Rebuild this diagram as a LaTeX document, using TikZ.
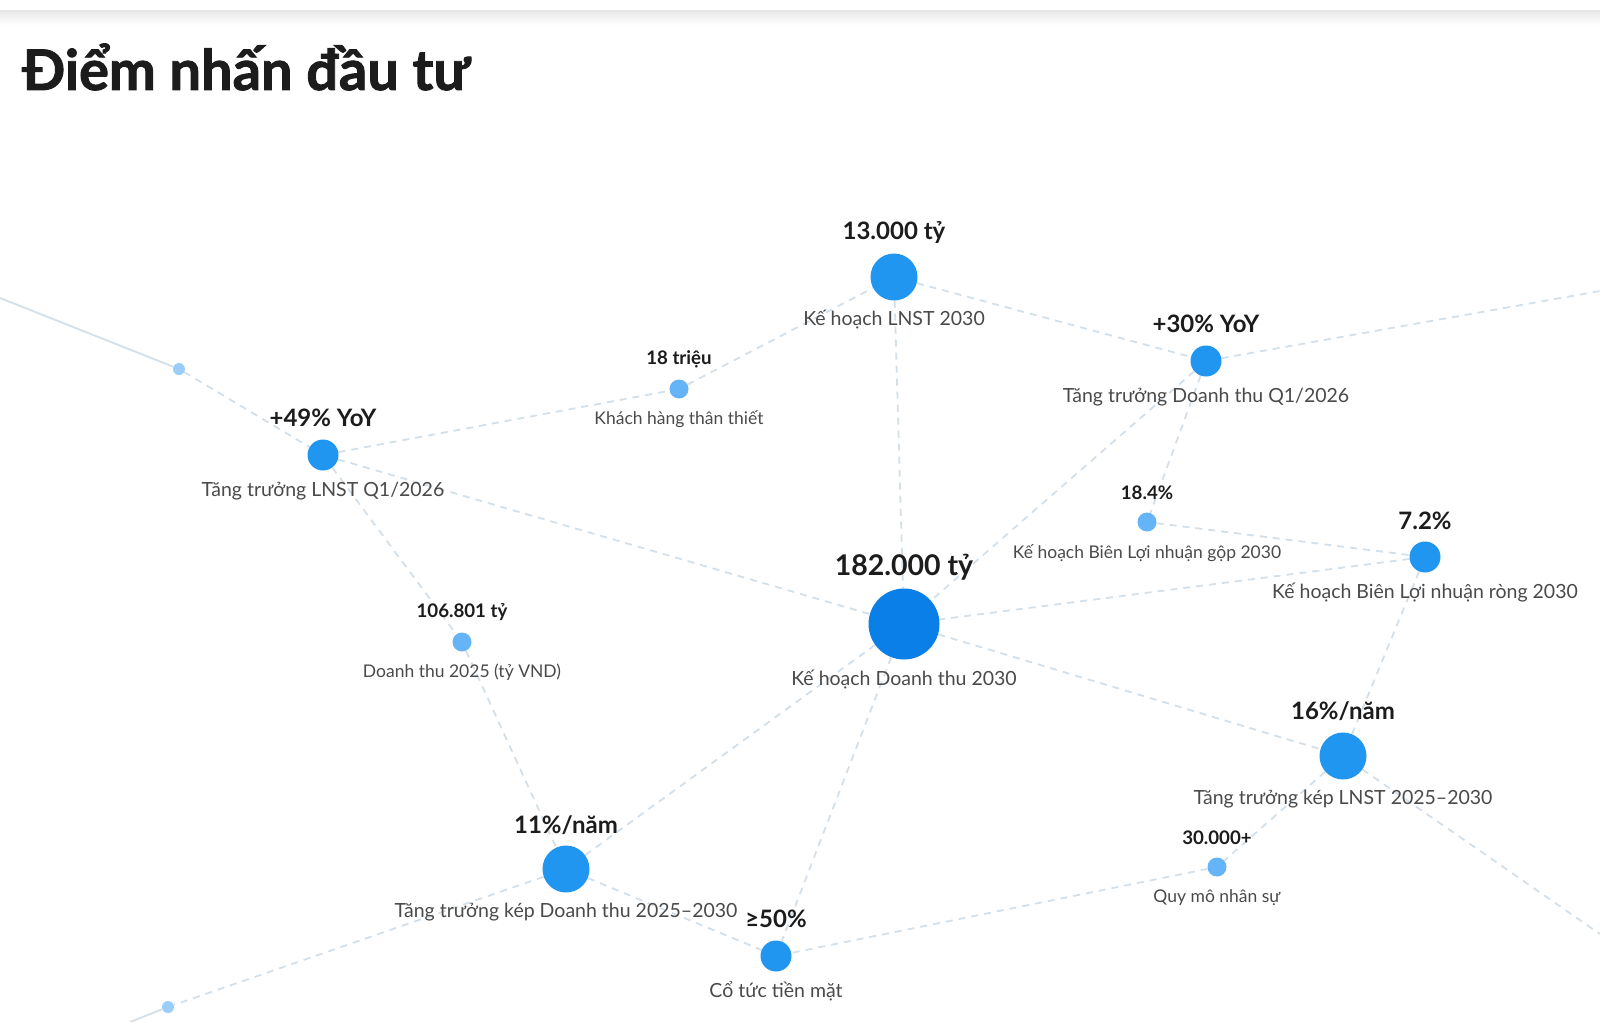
\documentclass[tikz,border=0pt]{standalone}
\usepackage{fontspec}
\setmainfont{Lato}
\newfontfamily\titlefont{Lato}[BoldFeatures={FakeBold=1.6}]
\usetikzlibrary{backgrounds}
\definecolor{bigblue}{HTML}{0A7FE8}
\definecolor{midblue}{HTML}{2196F0}
\definecolor{smallblue}{HTML}{64B4F7}
\definecolor{dotblue}{HTML}{9ACDF7}
\definecolor{edgec}{HTML}{D3E0EA}
\definecolor{valc}{HTML}{1C1C1C}
\definecolor{subc}{HTML}{4A4A4A}
\newcommand{\fs}[1]{\fontsize{#1}{#1}\selectfont}
\tikzset{
  circ/.style={circle, inner sep=0pt, draw=none},
  valtext/.style={text=valc, inner sep=0pt},
  subtext/.style={text=subc, inner sep=0pt},
  bigval/.style={valtext, font=\fs{24}\bfseries},
  smallval/.style={valtext, font=\fs{18.7}\bfseries},
  bigsub/.style={subtext, font=\fs{19.5}},
  smallsub/.style={subtext, font=\fs{17.5}},
  link/.style={edgec, line width=1.8pt, dash pattern=on 7pt off 6pt},
  solidlink/.style={edgec, line width=1.8pt},
}
\begin{document}
\begin{tikzpicture}[x=1pt,y=-1pt]
\useasboundingbox (0,0) rectangle (1600,1022);
\node[anchor=base west, inner sep=0pt, font=\titlefont\fs{56}\bfseries, text=valc] (title) at (22,90) {Điểm nhấn đầu tư};

% nodes
\node[circ, fill=midblue, minimum size=47pt] (lnst) at (894,277) {};
\node[bigval] (lnstv) at (894,233) {13.000 tỷ};
\node[bigsub] (lnsts) at (894,320) {Kế hoạch LNST 2030};

\node[circ, fill=midblue, minimum size=31pt] (dtq) at (1206,361) {};
\node[bigval] (dtqv) at (1206,324) {+30\% YoY};
\node[bigsub] (dtqs) at (1206,397) {Tăng trưởng Doanh thu Q1/2026};

\node[circ, fill=smallblue, minimum size=19pt] (kh) at (679,389) {};
\node[smallval] (khv) at (679,359) {18 triệu};
\node[smallsub] (khs) at (679,419) {Khách hàng thân thiết};

\node[circ, fill=midblue, minimum size=31pt] (lq) at (323,455) {};
\node[bigval] (lqv) at (323,418) {+49\% YoY};
\node[bigsub] (lqs) at (323,491) {Tăng trưởng LNST Q1/2026};

\node[circ, fill=dotblue, minimum size=12pt] (dotA) at (179,369) {};
\coordinate (offA) at (0,298);

\node[circ, fill=smallblue, minimum size=19pt] (gop) at (1147,522) {};
\node[smallval] (gopv) at (1147,493) {18.4\%};
\node[smallsub] (gops) at (1147,553) {Kế hoạch Biên Lợi nhuận gộp 2030};

\node[circ, fill=midblue, minimum size=31pt] (rong) at (1425,557) {};
\node[bigval] (rongv) at (1425,521) {7.2\%};
\node[bigsub] (rongs) at (1425,593) {Kế hoạch Biên Lợi nhuận ròng 2030};

\node[circ, fill=bigblue, minimum size=71pt] (dt) at (904,624) {};
\node[valtext, font=\fs{28.5}\bfseries] (dtv) at (904,567) {182.000 tỷ};
\node[bigsub] (dts) at (904,679) {Kế hoạch Doanh thu 2030};

\node[circ, fill=smallblue, minimum size=19pt] (dt25) at (462,642) {};
\node[smallval] (dt25v) at (462,612) {106.801 tỷ};
\node[smallsub] (dt25s) at (462,672) {Doanh thu 2025 (tỷ VND)};

\node[circ, fill=midblue, minimum size=47pt] (kl) at (1343,756) {};
\node[bigval] (klv) at (1343,711) {16\%/năm};
\node[bigsub] (kls) at (1343,799) {Tăng trưởng kép LNST 2025–2030};

\node[circ, fill=smallblue, minimum size=19pt] (ns) at (1217,867) {};
\node[smallval] (nsv) at (1217,838) {30.000+};
\node[smallsub] (nss) at (1217,898) {Quy mô nhân sự};

\node[circ, fill=midblue, minimum size=47pt] (kd) at (566,869) {};
\node[bigval] (kdv) at (566,825) {11\%/năm};
\node[bigsub] (kds) at (566,912) {Tăng trưởng kép Doanh thu 2025–2030};

\node[circ, fill=midblue, minimum size=31pt] (ct) at (776,956) {};
\node[bigval] (ctv) at (776,919) {≥50\%};
\node[bigsub] (cts) at (776,991) {Cổ tức tiền mặt};

\node[circ, fill=dotblue, minimum size=12pt] (dotB) at (168,1007) {};
\coordinate (offB) at (130,1022);
\coordinate (offC) at (1600,291);
\coordinate (offD) at (1600,934);

\begin{scope}[on background layer]
\fill[white] (0,0) rectangle (1600,1022);
\shade[top color=black!9, bottom color=white] (0,11) rectangle (1600,25);
\draw[solidlink] (offA) -- (dotA);
\draw[solidlink] (offB) -- (dotB);
\draw[link] (dotA) -- (lq);
\draw[link] (lq) -- (kh);
\draw[link] (kh) -- (lnst);
\draw[link] (lnst) -- (dtq);
\draw[link] (dtq) -- (offC);
\draw[link] (lnst) -- (dt);
\draw[link] (dtq) -- (dt);
\draw[link] (dtq) -- (gop);
\draw[link] (gop) -- (rong);
\draw[link] (rong) -- (dt);
\draw[link] (rong) -- (kl);
\draw[link] (lq) -- (dt);
\draw[link] (lq) -- (dt25);
\draw[link] (dt25) -- (kd);
\draw[link] (dt) -- (kd);
\draw[link] (dt) -- (ct);
\draw[link] (dt) -- (kl);
\draw[link] (kl) -- (ns);
\draw[link] (kl) -- (offD);
\draw[link] (ns) -- (ct);
\draw[link] (kd) -- (ct);
\draw[link] (kd) -- (dotB);
\end{scope}
\end{tikzpicture}
\end{document}
